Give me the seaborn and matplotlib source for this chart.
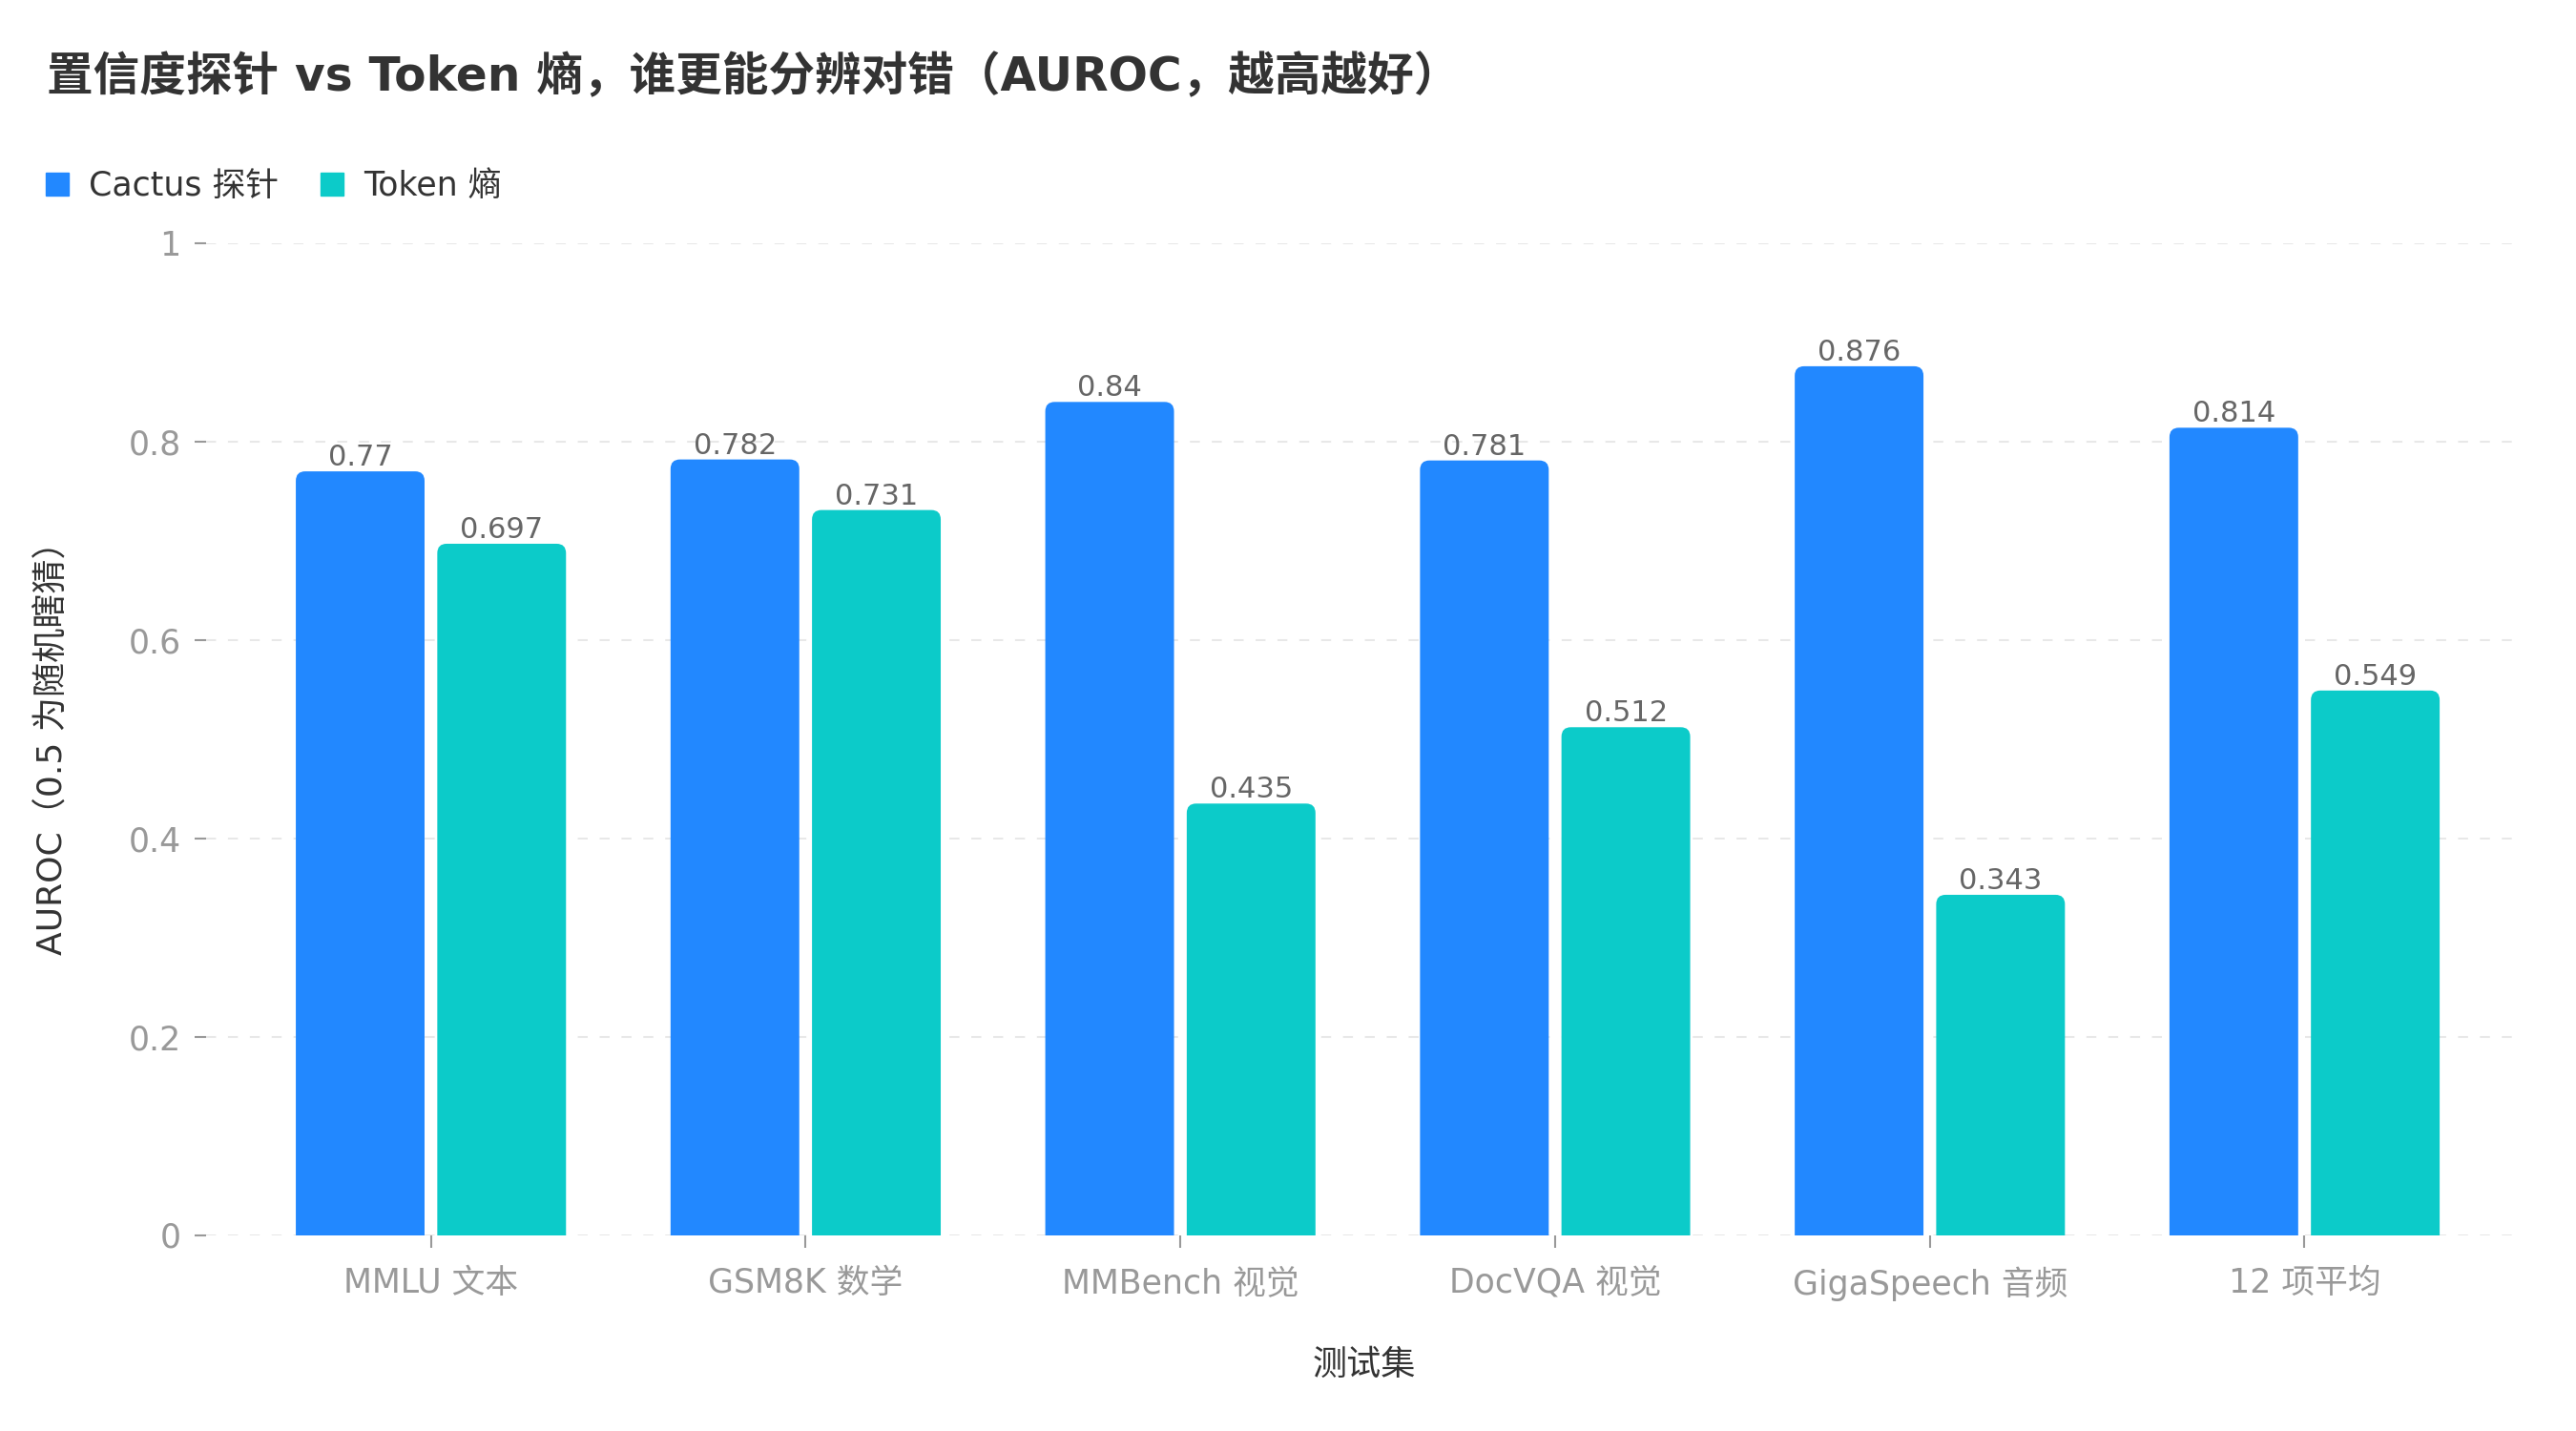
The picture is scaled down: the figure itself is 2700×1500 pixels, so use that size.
import numpy as np
import matplotlib
matplotlib.use("Agg")
import matplotlib.pyplot as plt
from matplotlib.patches import FancyBboxPatch
import seaborn as sb
import pandas as pd

# dados
categorias = ["MMLU 文本", "GSM8K 数学", "MMBench 视觉", "DocVQA 视觉", "GigaSpeech 音频", "12 项平均"]
cactus = [0.77, 0.782, 0.84, 0.781, 0.876, 0.814]
token = [0.697, 0.731, 0.435, 0.512, 0.343, 0.549]
series = ["Cactus 探针", "Token 熵"]
cores = ["#2288ff", "#0ccbc9"]

df = pd.DataFrame({
    "cat": categorias * 2,
    "val": cactus + token,
    "serie": [series[0]] * len(categorias) + [series[1]] * len(categorias),
})

sb.set_style("white")
plt.rcParams['font.family'] = ['DejaVu Sans', 'Noto Sans CJK SC']

fig = plt.figure(figsize=(27, 15), dpi=100)
ax = fig.add_axes([0.08, 0.137, 0.899, 0.693])

sb.barplot(data=df, x="cat", y="val", hue="serie", palette=cores, width=0.755, gap=0.09,
           legend=False, ax=ax, saturation=1, linewidth=0)

for cont in ax.containers:
    ax.bar_label(cont, labels=[f"{v:g}" for v in cont.datavalues], padding=0,
                 fontsize=22, color="#666666")

# barras com topo arredondado
for p in list(ax.patches):
    x, w, h = p.get_x(), p.get_width(), p.get_height()
    fb = FancyBboxPatch((x, -0.05), w, h + 0.05,
                        boxstyle="round,pad=0,rounding_size=0.025",
                        mutation_aspect=0.38, facecolor=p.get_facecolor(),
                        edgecolor="none", zorder=2)
    p.remove()
    ax.add_patch(fb)

ax.set_ylim(0, 1)
ax.set_xlim(-0.6, 5.58)
ax.set_yticks([0, 0.2, 0.4, 0.6, 0.8, 1.0])
ax.set_yticklabels(["0", "0.2", "0.4", "0.6", "0.8", "1"])
ax.yaxis.grid(True, linestyle=(0, (5, 6)), color="#e8e8e8", linewidth=1.5)
ax.set_axisbelow(True)
for s in ax.spines.values():
    s.set_visible(False)
ax.tick_params(axis="both", left=True, bottom=True, colors="#999999", labelsize=25,
               length=9, width=1.5, pad=10)
ax.tick_params(axis="x", pad=15)

ax.set_xlabel("测试集", fontsize=26, color="#333333", labelpad=36)
ax.set_ylabel("AUROC（0.5 为随机瞎猜）", fontsize=26, color="#333333", labelpad=45)

fig.text(0.018, 0.946, "置信度探针 vs Token 熵，谁更能分辨对错（AUROC，越高越好）",
         fontsize=35, fontweight="bold", color="#333333", va="center")

handles = [plt.Line2D([], [], marker="s", linestyle="", color=c, markersize=17) for c in cores]
fig.legend(handles, series, loc="center left", bbox_to_anchor=(0.003, 0.87), ncol=2,
           frameon=False, fontsize=25, handletextpad=0.35, handlelength=1.2,
           columnspacing=1.0, labelcolor="#333333")

fig.savefig("out.png", dpi=100)
